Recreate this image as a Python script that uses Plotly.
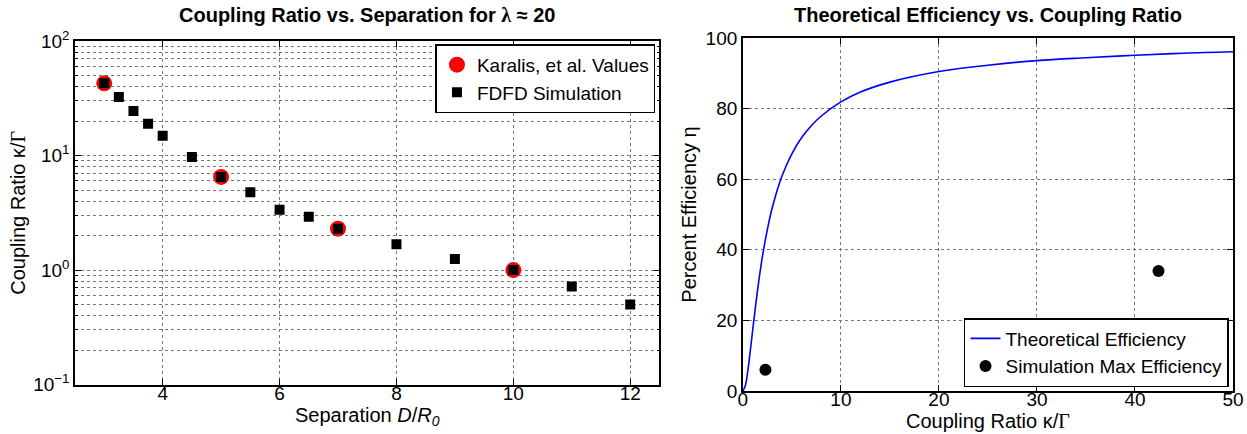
import plotly.graph_objects as go

# ---------------- data ----------------
separation = [3, 3.25, 3.5, 3.75, 4, 4.5, 5, 5.5, 6, 6.5, 7, 8, 9, 10, 11, 12]
fdfd_ratio = [42.7, 32.4, 24.5, 18.9, 14.9, 9.7, 6.5, 4.77, 3.36, 2.92, 2.30, 1.68, 1.25, 1.0, 0.72, 0.50]

karalis_sep = [3, 5, 7, 10]
karalis_ratio = [42.7, 6.5, 2.30, 1.0]

theory_ratio = [0, 0.25, 0.5, 0.75, 1, 1.5, 2, 2.5, 3, 4, 5, 6, 7, 8, 10, 12, 15, 20, 25, 30, 35, 40, 45, 50]
theory_eff = [0, 1.5, 5.6, 11.2, 17.2, 28.6, 38.2, 45.8, 52.0, 61.0, 67.2, 71.8, 75.2, 77.9, 81.9, 84.7, 87.5, 90.5, 92.3, 93.6, 94.4, 95.1, 95.7, 96.1]

sim_ratio = [2.3, 42.4]
sim_eff = [6.0, 34.0]

log_major_vals = [0.1, 1, 10, 100]
log_major_text = ["10<sup>\u22121</sup>", "10<sup>0</sup>", "10<sup>1</sup>", "10<sup>2</sup>"]
log_minor_vals = [0.2, 0.3, 0.4, 0.5, 0.6, 0.7, 0.8, 0.9,
                  2, 3, 4, 5, 6, 7, 8, 9,
                  20, 30, 40, 50, 60, 70, 80, 90]

# ---------------- figure ----------------
FONT = "Liberation Sans, Arial, Helvetica, sans-serif"
SERIF = "Liberation Serif, Times New Roman, serif"
W, H = 1247, 434
ML, MR, MT, MB = 75, 14.3, 37.7, 43.3
pw = W - ML - MR
ph = H - MT - MB

def fx(px):
    return (px - ML) / pw

def fy(py):
    return (H - MB - py) / ph

def serif(s):
    return '<span style="font-family:%s">%s</span>' % (SERIF.split(",")[0], s)

KG = "\u03ba/" + serif("\u0393")

fig = go.Figure()

fig.add_trace(go.Scatter(
    x=karalis_sep, y=karalis_ratio, mode="markers", name="Karalis, et al. Values",
    marker=dict(symbol="circle", size=16, color="#ff0000"),
    xaxis="x", yaxis="y", legend="legend"))
fig.add_trace(go.Scatter(
    x=separation, y=fdfd_ratio, mode="markers", name="FDFD Simulation",
    marker=dict(symbol="square", size=10, color="black"),
    xaxis="x", yaxis="y", legend="legend"))

fig.add_trace(go.Scatter(
    x=theory_ratio, y=theory_eff, mode="lines", name="Theoretical Efficiency",
    line=dict(color="#0000ff", width=1.6, shape="spline"),
    xaxis="x2", yaxis="y2", legend="legend2"))
fig.add_trace(go.Scatter(
    x=sim_ratio, y=sim_eff, mode="markers", name="Simulation Max Efficiency",
    marker=dict(symbol="circle", size=12, color="black"),
    xaxis="x2", yaxis="y2", legend="legend2"))

grid = dict(showgrid=True, gridcolor="#777777", griddash="dot", gridwidth=1)
frame = dict(showline=True, linecolor="black", linewidth=1.5, mirror="ticks",
             ticks="inside", ticklen=6, tickcolor="black", zeroline=False,
             automargin=False,
             tickfont=dict(family=FONT, size=19, color="black"))

fig.update_layout(
    width=W, height=H,
    margin=dict(l=ML, r=MR, t=MT, b=MB),
    paper_bgcolor="white", plot_bgcolor="white",
    font=dict(family=FONT, color="black"),
    xaxis=dict(domain=[fx(75), fx(659.3)], range=[2.5, 12.5], tickvals=[4, 6, 8, 10, 12],
               anchor="y",
               title=dict(text="Separation <i>D</i>/<i>R</i><sub><i>0</i></sub>",
                          font=dict(family=FONT, size=20), standoff=3),
               ticklabelstandoff=-9,
               **grid, **frame),
    yaxis=dict(domain=[fy(384.3), fy(40.7)], type="log", range=[-1, 2], anchor="x",
               tickvals=log_major_vals, ticktext=log_major_text,
               minor=dict(tickvals=log_minor_vals, ticks="inside", ticklen=3, tickcolor="black",
                          showgrid=True, gridcolor="#777777", griddash="dot", gridwidth=1),
               title=dict(text="Coupling Ratio " + KG, font=dict(family=FONT, size=20),
                          standoff=2),
               **grid, **frame),
    xaxis2=dict(domain=[fx(742.7), fx(1232.7)], range=[0, 50], dtick=10, anchor="y2",
                title=dict(text="Coupling Ratio " + KG, font=dict(family=FONT, size=20),
                           standoff=3),
                ticklabelstandoff=-10,
                **grid, **frame),
    yaxis2=dict(domain=[fy(390.7), fy(37.7)], range=[0, 100], dtick=20, anchor="x2",
                title=dict(text="Percent Efficiency \u03b7", font=dict(family=FONT, size=20),
                           standoff=4),
                **grid, **frame),
    legend=dict(x=fx(655.3), y=fy(44), xanchor="right", yanchor="top",
                bgcolor="white", bordercolor="black", borderwidth=1.5,
                font=dict(family=FONT, size=19, color="black"),
                itemsizing="trace", tracegroupgap=0, itemwidth=30),
    legend2=dict(x=fx(1228.7), y=fy(386.7), xanchor="right", yanchor="bottom",
                 bgcolor="white", bordercolor="black", borderwidth=1.5,
                 font=dict(family=FONT, size=19, color="black"),
                 tracegroupgap=0, itemwidth=30),
    showlegend=True,
    annotations=[
        dict(text="<b>Coupling Ratio vs. Separation for " + serif("\u03bb") + " \u2248 20</b>",
             xref="paper", yref="paper",
             x=fx(367), y=fy(15), xanchor="center", yanchor="middle", showarrow=False,
             font=dict(family=FONT, size=20, color="black")),
        dict(text="<b>Theoretical Efficiency vs. Coupling Ratio</b>", xref="paper", yref="paper",
             x=fx(987.7), y=fy(15), xanchor="center", yanchor="middle", showarrow=False,
             font=dict(family=FONT, size=20, color="black")),
    ],
)

fig.write_html("out.html", config={"displayModeBar": False},
               post_script="document.body.style.margin='0';document.body.style.overflow='hidden';")
